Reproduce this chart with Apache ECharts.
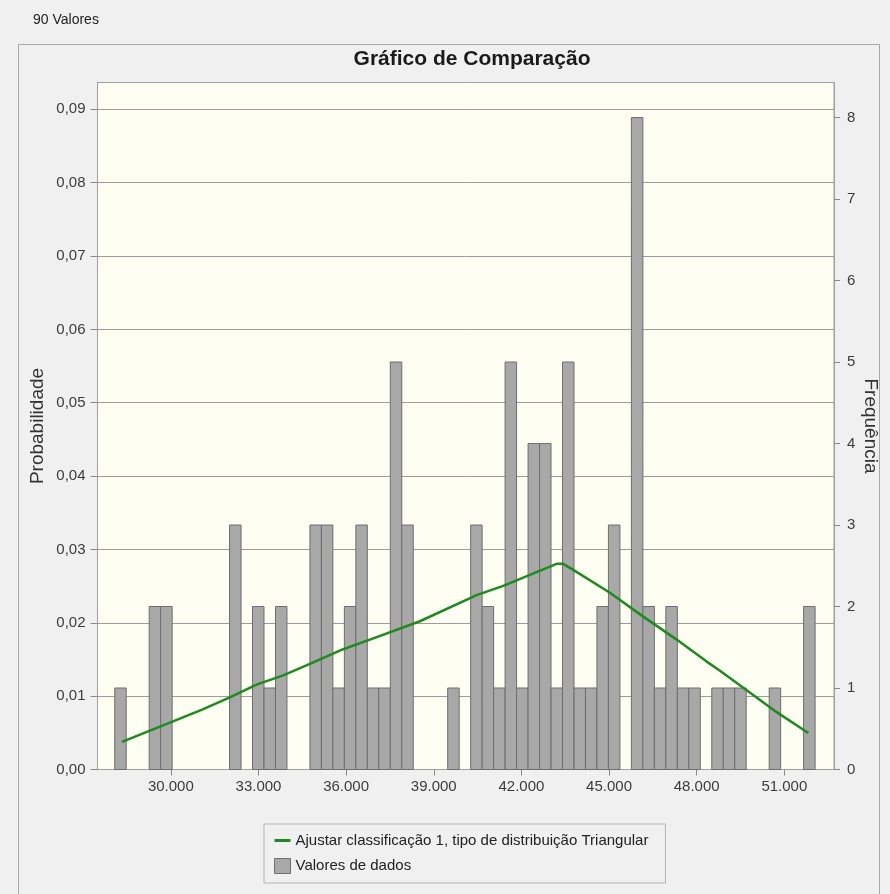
<!DOCTYPE html>
<html>
<head>
<meta charset="utf-8">
<script src="https://cdn.jsdelivr.net/npm/echarts@6/dist/echarts.min.js"></script>
<style>
html,body{margin:0;padding:0;background:#f0f0f0;}
#chart{width:890px;height:894px;}
</style>
</head>
<body>
<div id="chart"></div>
<script>
// ---- data ----
const countLabel = '90 Valores';
const chartTitle = 'Gráfico de Comparação';
const lineName = 'Ajustar classificação 1, tipo de distribuição Triangular';
const barName = 'Valores de dados';

// histogram bins (61 bins)
const binStart = 28080;
const binWidth = 393;
const freq = [1,0,0,2,2,0,0,0,0,0,3,0,2,1,2,0,0,3,3,1,2,3,1,1,5,3,0,0,0,1,0,3,2,1,5,1,4,4,1,5,1,1,2,3,0,8,2,1,2,1,1,0,1,1,1,0,0,1,0,0,2];

// fitted triangular curve
const fitX = [28330,31051,32020,32934,33845,34759,35900,36814,38526,40467,41378,43206,43432,43775,45031,46171,47315,48342,48797,49595,50739,51821];
const fitY = [0.00377,0.00814,0.00982,0.01158,0.01283,0.01439,0.01640,0.01771,0.02021,0.02378,0.02503,0.02804,0.02804,0.02722,0.02409,0.02084,0.01771,0.01471,0.01345,0.01114,0.00782,0.00497];

// axes
const xTicks = [30000,33000,36000,39000,42000,45000,48000,51000];
const probTicks = [0,0.01,0.02,0.03,0.04,0.05,0.06,0.07,0.08,0.09];
const freqTicks = [0,1,2,3,4,5,6,7,8];
const xMin = 27490, xMax = 52700;
const probMax = 0.09366;
const freqMax = 8.43;

// ---- build ----
const barData = [];
freq.forEach((f, i) => {
  if (f > 0) barData.push([binStart + i * binWidth, binStart + (i + 1) * binWidth, f]);
});
const lineData = fitX.map((x, i) => [x, fitY[i]]);

const fontFam = '"Liberation Sans", Arial, sans-serif';
const labelColor = '#3c3c3c';
const axisGray = '#a0a0a0';

const chart = echarts.init(document.getElementById('chart'), null, {renderer: 'canvas'});
chart.setOption({
  backgroundColor: '#f0f0f0',
  animation: false,
  title: {
    text: chartTitle,
    left: 467,
    textAlign: 'center',
    top: 44,
    textStyle: {fontFamily: fontFam, fontSize: 21, fontWeight: 'bold', color: '#1a1a1a'}
  },
  graphic: [
    {type: 'rect', shape: {x: 18.5, y: 44.5, width: 861, height: 900}, style: {fill: 'none', stroke: '#a8a8a8', lineWidth: 1}, silent: true, z: -1},
    {type: 'text', left: 33, top: 13, style: {text: countLabel, font: '14px "Liberation Sans Narrow", "Liberation Sans", Arial, sans-serif', fill: '#222'}}
  ],
  legend: {
    orient: 'vertical',
    left: 264,
    top: 824,
    padding: [9, 17, 9, 10],
    itemWidth: 16,
    itemHeight: 15,
    itemGap: 10,
    symbolKeepAspect: true,
    borderColor: '#b4b4b4',
    borderWidth: 1,
    backgroundColor: '#f0f0f0',
    textStyle: {fontFamily: fontFam, fontSize: 15, color: '#222'},
    data: [
      {name: lineName, icon: 'path://M0,0 L16,0 L16,3 L0,3 Z', itemStyle: {color: '#1f8a1f'}},
      {name: barName, icon: 'rect', itemStyle: {color: '#a8a8a8', borderColor: '#707070', borderWidth: 1}}
    ]
  },
  grid: {
    left: 97.5, top: 82.5, right: 56, bottom: 124.5,
    outerBoundsMode: 'none',
    containLabel: false,
    show: true, backgroundColor: '#fefef2', borderColor: axisGray, borderWidth: 1
  },
  xAxis: {
    type: 'value', min: xMin, max: xMax,
    axisLine: {show: true, lineStyle: {color: axisGray}},
    axisTick: {show: true, length: 6, lineStyle: {color: '#888'}, customValues: xTicks},
    axisLabel: {
      customValues: xTicks, margin: 10,
      fontFamily: fontFam, fontSize: 15, color: labelColor,
      formatter: v => String(Math.round(v)).replace(/\B(?=(\d{3})+(?!\d))/g, '.')
    },
    splitLine: {show: false}
  },
  yAxis: [
    {
      type: 'value', position: 'left', min: 0, max: probMax, interval: 0.01,
      name: 'Probabilidade', nameLocation: 'middle', nameRotate: 90, nameGap: 50,
      nameMoveOverlap: false,
      nameTextStyle: {fontFamily: fontFam, fontSize: 19, color: '#333'},
      axisLine: {show: true, lineStyle: {color: axisGray}},
      axisTick: {show: true, length: 7, lineStyle: {color: '#888'}, customValues: probTicks},
      axisLabel: {
        customValues: probTicks, margin: 12,
        fontFamily: fontFam, fontSize: 15, color: labelColor,
        formatter: v => v.toFixed(2).replace('.', ',')
      },
      splitLine: {show: true, lineStyle: {color: '#9c9c9c', width: 1}}
    },
    {
      type: 'value', position: 'right', min: 0, max: freqMax, interval: 1,
      name: 'Frequência', nameLocation: 'middle', nameRotate: -90, nameGap: 27,
      nameMoveOverlap: false,
      nameTextStyle: {fontFamily: fontFam, fontSize: 19, color: '#333'},
      axisLine: {show: true, lineStyle: {color: axisGray}},
      axisTick: {show: true, length: 6, lineStyle: {color: '#888'}, customValues: freqTicks},
      axisLabel: {
        customValues: freqTicks, margin: 13,
        fontFamily: fontFam, fontSize: 15, color: labelColor,
        formatter: v => String(Math.round(v))
      },
      splitLine: {show: false}
    }
  ],
  series: [
    {
      name: barName,
      type: 'custom',
      xAxisIndex: 0,
      yAxisIndex: 1,
      itemStyle: {color: '#a8a8a8', borderColor: '#707070'},
      encode: {x: [0, 1], y: 2},
      data: barData,
      z: 2,
      renderItem: function (params, api) {
        const p0 = api.coord([api.value(0), api.value(2)]);
        const p1 = api.coord([api.value(1), 0]);
        return {
          type: 'rect',
          shape: {x: p0[0], y: p0[1], width: p1[0] - p0[0], height: p1[1] - p0[1]},
          style: {fill: '#a8a8a8', stroke: '#6e6e6e', lineWidth: 1}
        };
      }
    },
    {
      name: lineName,
      type: 'line',
      xAxisIndex: 0,
      yAxisIndex: 0,
      data: lineData,
      symbol: 'none',
      smooth: false,
      z: 3,
      itemStyle: {color: '#1f8a1f'},
      lineStyle: {color: '#1f8a1f', width: 2.5}
    }
  ]
});
</script>
</body>
</html>
